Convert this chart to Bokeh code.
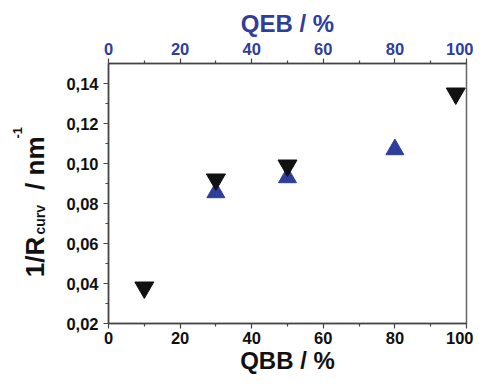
import math
from bokeh.plotting import figure
from bokeh.layouts import row
from bokeh.models import (Range1d, LinearAxis, FixedTicker, CustomJSTickFormatter, Label)
from bokeh.embed import file_html
from bokeh.resources import INLINE

# ---- data ----
qbb_pct = [10, 30, 50, 97]
qbb_curv = [0.038, 0.092, 0.099, 0.135]
qeb_pct = [30, 50, 80]
qeb_curv = [0.0855, 0.093, 0.107]

x_ticks = [0, 20, 40, 60, 80, 100]
x_minor = [10, 30, 50, 70, 90]
y_ticks = [0.02, 0.04, 0.06, 0.08, 0.10, 0.12, 0.14]
y_minor = [0.03, 0.05, 0.07, 0.09, 0.11, 0.13]

x_title = "QBB / %"
top_title = "QEB / %"
# y title pieces: 1/R_curv / nm^-1
y_title_parts = ["1/R", "curv", "/ nm", "-1"]

FONT = "Liberation Sans"
BLUE = "#2E3E9C"
AXC = "#444444"
LW = 50  # width of the y-title strip

p = figure(width=473 - LW, height=376,
           x_range=Range1d(0, 100), y_range=Range1d(0.02, 0.15),
           output_backend="svg", toolbar_location=None,
           min_border_left=58, min_border_right=7,
           min_border_top=63, min_border_bottom=50,
           x_axis_location="below")
p.extra_x_ranges = {"qeb": Range1d(0, 100)}
p.xgrid.visible = False
p.ygrid.visible = False
p.background_fill_color = "white"
p.border_fill_color = "white"
p.outline_line_color = "#666666"
p.outline_line_width = 1.5


def style_axis(ax, label_color="#111111"):
    ax.axis_line_color = AXC
    ax.axis_line_width = 1.5
    ax.major_tick_line_color = AXC
    ax.minor_tick_line_color = AXC
    ax.major_tick_line_width = 1.2
    ax.minor_tick_line_width = 1.2
    ax.major_tick_out = 5
    ax.major_tick_in = 0
    ax.minor_tick_out = 3
    ax.minor_tick_in = 0
    ax.major_label_text_font = FONT
    ax.major_label_text_font_style = "bold"
    ax.major_label_text_font_size = "16.5px"
    ax.major_label_text_color = label_color
    ax.axis_label_text_font = FONT
    ax.axis_label_text_font_style = "bold"
    ax.axis_label_text_font_size = "24px"
    ax.axis_label_text_color = label_color


xa = p.xaxis[0]
xa.ticker = FixedTicker(ticks=x_ticks, minor_ticks=x_minor)
xa.axis_label = x_title
style_axis(xa)
xa.major_label_standoff = 3
xa.axis_label_standoff = 0

ya = p.yaxis[0]
ya.ticker = FixedTicker(ticks=y_ticks, minor_ticks=y_minor)
ya.formatter = CustomJSTickFormatter(code="return tick.toFixed(2).replace('.', ',');")
style_axis(ya)
ya.major_label_standoff = 5

top = LinearAxis(x_range_name="qeb", axis_label=top_title,
                 ticker=FixedTicker(ticks=x_ticks, minor_ticks=x_minor))
style_axis(top, BLUE)
top.major_label_standoff = 4
top.axis_label_standoff = 3
p.add_layout(top, "above")

p.scatter(qeb_pct, qeb_curv, marker="triangle", size=18, color=BLUE,
          x_range_name="qeb")
p.scatter(qbb_pct, qbb_curv, marker="inverted_triangle", size=19, color="#111111")

# strip holding the composed y-axis title (its frame lines up with the plot's)
lab = figure(width=LW, height=376, x_range=Range1d(0, LW), y_range=p.y_range,
             output_backend="svg", toolbar_location=None,
             x_axis_type=None, y_axis_type=None,
             min_border=0, outline_line_color=None)
lab.xgrid.visible = False
lab.ygrid.visible = False
lab.border_fill_color = "white"
lab.background_fill_color = "white"

ang = math.pi / 2
layout_parts = [(34, 0.0431, "26px"), (39, 0.0645, "14px"),
                (34, 0.0868, "26px"), (17, 0.1125, "13px")]
for txt, (sx, ypos, fs) in zip(y_title_parts, layout_parts):
    lab.add_layout(Label(x=sx, y=ypos, x_units="screen", y_units="data", text=txt,
                         angle=ang, text_font=FONT, text_font_style="bold",
                         text_font_size=fs, text_color="#111111",
                         text_align="left", text_baseline="alphabetic"))

layout = row(lab, p, spacing=0)
open("out.html", "w").write(file_html(layout, INLINE))
